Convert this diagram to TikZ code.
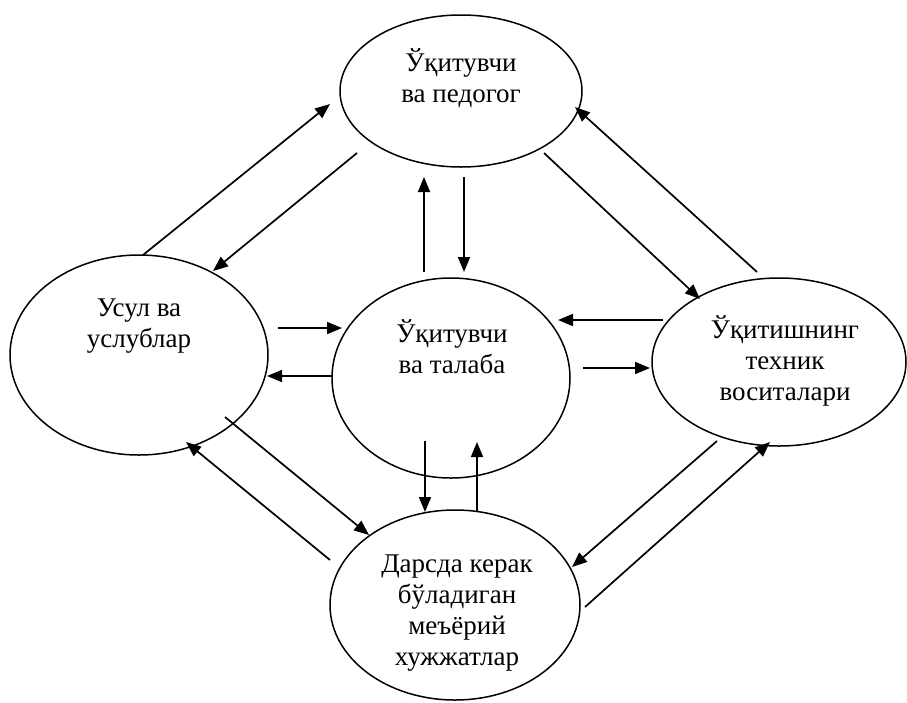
\documentclass[tikz,border=0pt]{standalone}
\usepackage{fontspec}
\setmainfont{Liberation Serif}
\usetikzlibrary{shapes.geometric,arrows.meta}
\begin{document}
\begin{tikzpicture}[x=1pt,y=-1pt,
  oval/.style={draw,ellipse,line width=1.5pt,inner sep=0pt},
  lbl/.style={align=center,font=\fontsize{27}{31}\selectfont,inner sep=0pt},
  arr/.style={line width=1.7pt,-{Triangle[length=15pt,width=12pt]}}]
\useasboundingbox (0,0) rectangle (907,702);
% ellipses
\node[oval,minimum width=242pt,minimum height=152pt] (T) at (461,91) {};
\node[oval,minimum width=258pt,minimum height=200pt] (L) at (139,355) {};
\node[oval,minimum width=238pt,minimum height=200pt] (C) at (451,378) {};
\node[oval,minimum width=254pt,minimum height=168pt] (R) at (779,362) {};
\node[oval,minimum width=250pt,minimum height=190pt] (B) at (455,605) {};
% texts
\node[lbl] (Tt) at (461,78) {Ўқитувчи\\ва педогог};
\node[lbl] (Lt) at (139,326) {Усул ва\\услублар};
\node[lbl] (Ct) at (452,347) {Ўқитувчи\\ва талаба};
\node[lbl] (Rt) at (785,361) {Ўқитишнинг\\техник\\воситалари};
\node[lbl] (Bt) at (457,613) {Дарсда керак\\бўладиган\\меъёрий\\хужжатлар};
% arrow end points
\coordinate (LTa) at (143,255); \coordinate (LTb) at (330,104);
\coordinate (TLa) at (357,153); \coordinate (TLb) at (213,271);
\coordinate (CTa) at (424,272); \coordinate (CTb) at (424,177);
\coordinate (TCa) at (464,177); \coordinate (TCb) at (464,272);
\coordinate (TRa) at (544,153); \coordinate (TRb) at (700,299);
\coordinate (RTa) at (757,272); \coordinate (RTb) at (575,107);
\coordinate (LCa) at (278,328); \coordinate (LCb) at (342,328);
\coordinate (CLa) at (332,376); \coordinate (CLb) at (267,376);
\coordinate (RCa) at (663,320); \coordinate (RCb) at (558,320);
\coordinate (CRa) at (583,368); \coordinate (CRb) at (650,368);
\coordinate (CBa) at (425,441); \coordinate (CBb) at (425,512);
\coordinate (BCa) at (477,512); \coordinate (BCb) at (477,442);
\coordinate (LBa) at (225,417); \coordinate (LBb) at (369,535);
\coordinate (BLa) at (330,560); \coordinate (BLb) at (186,442);
\coordinate (RBa) at (717,441); \coordinate (RBb) at (572,567);
\coordinate (BRa) at (585,607); \coordinate (BRb) at (770,442);
% arrows
\foreach \p in {LT,TL,CT,TC,TR,RT,LC,CL,RC,CR,CB,BC,LB,BL,RB,BR}
  \draw[arr] (\p a) -- (\p b);
\end{tikzpicture}
\end{document}
